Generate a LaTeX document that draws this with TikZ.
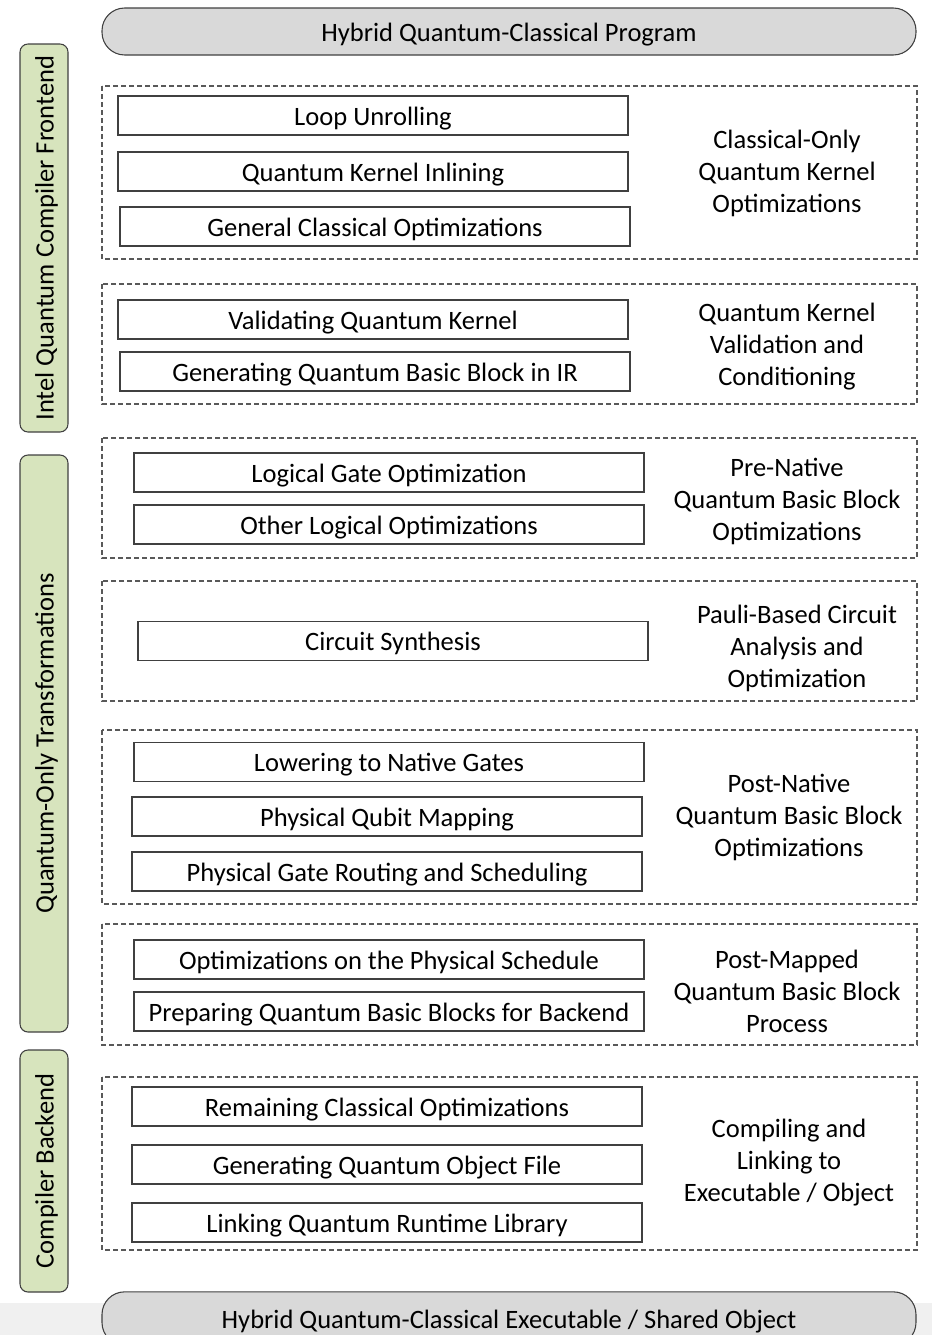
\documentclass[tikz,border=0pt]{standalone}
\usepackage{fontspec}
\setmainfont{Carlito}
\usepackage{xcolor}
\usepackage{tikz}
\usetikzlibrary{positioning}
\definecolor{phasegreen}{HTML}{D7E4BD}
\definecolor{pillgray}{HTML}{D9D9D9}
\definecolor{edgegray}{HTML}{404040}
\definecolor{dashgray}{HTML}{595959}
\definecolor{bandgray}{HTML}{F0F0F0}
\tikzset{
    stage/.style={
        rectangle,
        draw=edgegray,
        line width=1.1pt,
        fill=white,
        minimum width=382.5pt,
        minimum height=29.5pt,
        inner sep=0pt,
        text height=16.5pt,
        text depth=2pt,
        font=\fontsize{19.9}{24}\selectfont,
    },
    group/.style={
        draw=dashgray,
        line width=0.8pt,
        dash pattern=on 3.75pt off 2.25pt,
    },
    grouplabel/.style={
        align=center,
        inner sep=0pt,
        yshift=-2.2pt,
        font=\fontsize{19.9}{24}\selectfont,
    },
    phase/.style={
        rectangle,
        rounded corners=6pt,
        draw=edgegray,
        line width=0.8pt,
        fill=phasegreen,
        rotate=90,
        minimum height=36pt,
        inner sep=0pt,
        text height=16.5pt,
        text depth=2pt,
        font=\fontsize{19.9}{24}\selectfont,
    },
    pill/.style={
        rectangle,
        rounded corners=17pt,
        draw=edgegray,
        line width=0.8pt,
        fill=pillgray,
        minimum width=610.5pt,
        minimum height=35.25pt,
        inner sep=0pt,
        text height=16.5pt,
        text depth=2pt,
        font=\fontsize{19.9}{24}\selectfont,
    },
}

\begin{document}
\begin{tikzpicture}[x=0.75pt, y=-0.75pt]
      \useasboundingbox (0,0) rectangle (932,1335);
      \fill[bandgray] (0,1303) rectangle (932,1335);

      \node[pill] (program) at (509,31.5) {Hybrid Quantum-Classical Program};
      \begin{scope}
        \clip (0,0) rectangle (932,1335);
        \node[pill, minimum height=40pt] (executable) at (509,1318.5) {Hybrid Quantum-Classical Executable / Shared Object};
      \end{scope}

      \node[phase, minimum width=291pt] (frontend) at (44,238) {Intel Quantum Compiler Frontend};
      \node[phase, minimum width=432.75pt] (quantumonly) at (44,743.5) {Quantum-Only Transformations};
      \node[phase, minimum width=181.5pt] (backend) at (44,1171) {Compiler Backend};

      \draw[group] (102,86) rectangle (917,259);
      \node[stage] (unroll) at (373,115.5) {Loop Unrolling};
      \node[stage] (inline) at (373,171.5) {Quantum Kernel Inlining};
      \node[stage] (classopt) at (375,226.5) {General Classical Optimizations};
      \node[grouplabel] (classonly) at (787,170) {Classical-Only\\Quantum Kernel\\Optimizations};

      \draw[group] (102,284) rectangle (917,404);
      \node[stage] (validate) at (373,319.5) {Validating Quantum Kernel};
      \node[stage] (genblock) at (375,371.5) {Generating Quantum Basic Block in IR};
      \node[grouplabel] (validation) at (787,344) {Quantum Kernel\\Validation and\\Conditioning};

      \draw[group] (102,438) rectangle (917,558);
      \node[stage] (logicalgate) at (389,472.5) {Logical Gate Optimization};
      \node[stage] (logicalother) at (389,524.5) {Other Logical Optimizations};
      \node[grouplabel] (prenative) at (787,499) {Pre-Native\\Quantum Basic Block\\Optimizations};

      \draw[group] (102,581) rectangle (917,701);
      \node[stage] (synthesis) at (393,641) {Circuit Synthesis};
      \node[grouplabel] (pauli) at (797,645) {Pauli-Based Circuit\\Analysis and\\Optimization};

      \draw[group] (102,730) rectangle (917,904);
      \node[stage] (lowering) at (389,762) {Lowering to Native Gates};
      \node[stage] (mapping) at (387,816.5) {Physical Qubit Mapping};
      \node[stage] (routing) at (387,871.5) {Physical Gate Routing and Scheduling};
      \node[grouplabel] (postnative) at (789,815) {Post-Native\\Quantum Basic Block\\Optimizations};

      \draw[group] (102,924) rectangle (917,1045);
      \node[stage] (schedopt) at (389,959.5) {Optimizations on the Physical Schedule};
      \node[stage] (preparing) at (389,1011.5) {Preparing Quantum Basic Blocks for Backend};
      \node[grouplabel] (postmapped) at (787,988) {Post-Mapped\\Quantum Basic Block\\Process};

      \draw[group] (102,1077) rectangle (917,1250);
      \node[stage] (remaining) at (387,1106.5) {Remaining Classical Optimizations};
      \node[stage] (objfile) at (387,1164.5) {Generating Quantum Object File};
      \node[stage] (runtime) at (387,1222.5) {Linking Quantum Runtime Library};
      \node[grouplabel] (linking) at (789,1160) {Compiling and\\Linking to\\Executable / Object};
    \end{tikzpicture}
\end{document}
